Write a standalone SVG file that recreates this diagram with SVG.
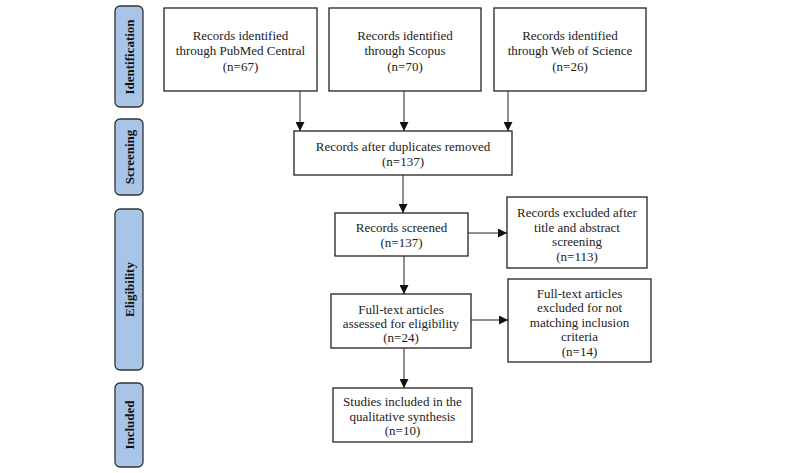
<svg xmlns="http://www.w3.org/2000/svg" width="800" height="473" viewBox="0 0 800 473">
<style>
.box{fill:#fff;stroke:#222;stroke-width:1.3}
.side{fill:#a8c5e8;stroke:#333;stroke-width:1.3}
.t{font-family:"Liberation Serif","Times New Roman",serif;font-size:13px;fill:#222;text-anchor:middle}
.st{font-family:"Liberation Serif","Times New Roman",serif;font-size:13px;font-weight:bold;fill:#111;text-anchor:middle}
.c{fill:none;stroke:#222;stroke-width:1}
</style>
<defs>
<marker id="ah" viewBox="0 0 10 10" refX="10" refY="5" markerWidth="9" markerHeight="9" markerUnits="userSpaceOnUse" orient="auto">
<path d="M0,0 L10,5 L0,10 Z" fill="#111"/>
</marker>
</defs>
<rect width="800" height="473" fill="#fff"/>
<g id="side-identification"><rect class="side" x="115" y="6" width="28" height="101" rx="5"/><text class="st" transform="translate(133.5,57) rotate(-90)">Identification</text></g>
<g id="side-screening"><rect class="side" x="115" y="119" width="28" height="76" rx="5"/><text class="st" transform="translate(133.5,157) rotate(-90)">Screening</text></g>
<g id="side-eligibility"><rect class="side" x="115" y="209" width="28" height="161" rx="5"/><text class="st" transform="translate(133.5,289.5) rotate(-90)">Eligibility</text></g>
<g id="side-included"><rect class="side" x="115" y="383" width="28" height="84" rx="5"/><text class="st" transform="translate(133.5,425) rotate(-90)">Included</text></g>

<g id="connectors">
<line class="c" x1="300" y1="91" x2="300" y2="131" marker-end="url(#ah)"/>
<line class="c" x1="404" y1="91" x2="404" y2="131" marker-end="url(#ah)"/>
<line class="c" x1="508" y1="91" x2="508" y2="131" marker-end="url(#ah)"/>
<line class="c" x1="403" y1="175" x2="403" y2="213" marker-end="url(#ah)"/>
<line class="c" x1="468" y1="233" x2="507" y2="233" marker-end="url(#ah)"/>
<line class="c" x1="404" y1="256" x2="404" y2="294" marker-end="url(#ah)"/>
<line class="c" x1="471" y1="320" x2="508" y2="320" marker-end="url(#ah)"/>
<line class="c" x1="404" y1="348" x2="404" y2="388" marker-end="url(#ah)"/>
</g>

<g id="pubmed"><rect class="box" x="164" y="8" width="153" height="83"/>
<text class="t" x="240.5" y="39.5">Records identified</text><text class="t" x="240.5" y="55">through PubMed Central</text><text class="t" x="240.5" y="70.5">(n=67)</text></g>
<g id="scopus"><rect class="box" x="329" y="8" width="152" height="83"/>
<text class="t" x="405" y="39.5">Records identified</text><text class="t" x="405" y="55">through Scopus</text><text class="t" x="405" y="70.5">(n=70)</text></g>
<g id="wos"><rect class="box" x="494" y="8" width="152" height="83"/>
<text class="t" x="570" y="39.5">Records identified</text><text class="t" x="570" y="55">through Web of Science</text><text class="t" x="570" y="70.5">(n=26)</text></g>
<g id="duplicates"><rect class="box" x="294" y="131" width="218" height="44"/>
<text class="t" x="403" y="150.5">Records after duplicates removed</text><text class="t" x="403" y="166">(n=137)</text></g>
<g id="screened"><rect class="box" x="335" y="213" width="133" height="43"/>
<text class="t" x="401.5" y="232">Records screened</text><text class="t" x="401.5" y="247">(n=137)</text></g>
<g id="excluded1"><rect class="box" x="507" y="197" width="140" height="71"/>
<text class="t" x="577" y="217">Records excluded after</text><text class="t" x="577" y="231.5">title and abstract</text><text class="t" x="577" y="246">screening</text><text class="t" x="577" y="260.5">(n=113)</text></g>
<g id="fulltext"><rect class="box" x="331" y="294" width="140" height="54"/>
<text class="t" x="401" y="313.5">Full-text articles</text><text class="t" x="401" y="327.5">assessed for eligibility</text><text class="t" x="401" y="341.5">(n=24)</text></g>
<g id="excluded2"><rect class="box" x="508" y="279" width="143" height="83"/>
<text class="t" x="579.5" y="297.5">Full-text articles</text><text class="t" x="579.5" y="312">excluded for not</text><text class="t" x="579.5" y="326.5">matching inclusion</text><text class="t" x="579.5" y="341">criteria</text><text class="t" x="579.5" y="355.5">(n=14)</text></g>
<g id="studies"><rect class="box" x="333" y="388" width="139" height="54"/>
<text class="t" x="402.5" y="406">Studies included in the</text><text class="t" x="402.5" y="420.5">qualitative synthesis</text><text class="t" x="402.5" y="435">(n=10)</text></g>
</svg>
